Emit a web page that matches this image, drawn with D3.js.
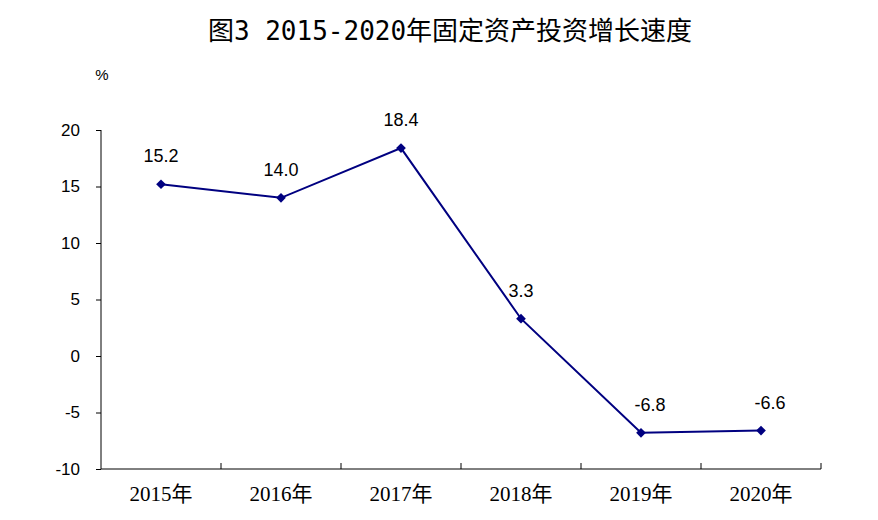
<!DOCTYPE html>
<html><head><meta charset="utf-8">
<script src="https://cdn.jsdelivr.net/npm/d3@7"></script>
<style>body{margin:0;background:#fff}</style>
</head><body>
<script>
const title = "图3 2015-2020年固定资产投资增长速度";
const categories = ["2015年","2016年","2017年","2018年","2019年","2020年"];
const values = [15.2, 14.0, 18.4, 3.3, -6.8, -6.6];
const yTicks = [-10, -5, 0, 5, 10, 15, 20];
const unit = "%";

const W = 878, H = 520;
const sans = "'Liberation Sans', Arial, sans-serif";
const svg = d3.select("body").append("svg").attr("width", W).attr("height", H);
const x = d3.scaleBand().domain(categories).range([101, 821]);
const y = d3.scaleLinear().domain([-10, 20]).range([469, 130]);

svg.append("text").attr("x", 450).attr("y", 40).attr("text-anchor", "middle")
  .style("font-family", "'DejaVu Sans Mono', 'Noto Sans CJK SC', sans-serif").style("font-size", "26px").attr("fill", "#000")
  .text(title);
svg.append("text").attr("x", 102).attr("y", 80).attr("text-anchor", "middle")
  .style("font-family", sans).style("font-size", "15px").text(unit);

// y axis
const ya = svg.append("g").attr("transform", "translate(101,0)")
  .call(d3.axisLeft(y).tickValues(yTicks).tickSize(5).tickPadding(16).tickFormat(d => String(d)));
ya.select(".domain").attr("stroke", "#000").attr("d", `M0,${y(20)}V${y(-10)}`);
ya.selectAll("text").style("font-family", sans).style("font-size", "17px").attr("fill", "#000");

// x axis with boundary ticks
const xa = svg.append("g").attr("transform", `translate(0,${y(-10)})`)
  .call(d3.axisBottom(x).tickSize(0).tickPadding(17));
xa.select(".domain").attr("stroke", "#000").attr("d", `M101,0H821`);
xa.selectAll("text").style("font-family", "'Liberation Serif', 'Noto Sans CJK SC', serif").style("font-size", "21px").attr("fill", "#000");
xa.selectAll(".bt").data(categories).enter().append("line")
  .attr("x1", d => x(d) + x.bandwidth()).attr("x2", d => x(d) + x.bandwidth())
  .attr("y1", 0).attr("y2", -6).attr("stroke", "#000");

const cx = d => x(d) + x.bandwidth() / 2;
const line = d3.line().x((d, i) => cx(categories[i])).y(d => y(d));
svg.append("path").datum(values).attr("d", line).attr("fill", "none")
  .attr("stroke", "#000080").attr("stroke-width", 2);
svg.selectAll(".m").data(values).enter().append("path")
  .attr("d", d3.symbol(d3.symbolDiamond2, 60)())
  .attr("transform", (d, i) => `translate(${cx(categories[i])},${y(d)})`)
  .attr("fill", "#000080");
svg.selectAll(".lbl").data(values).enter().append("text")
  .attr("x", (d, i) => cx(categories[i]) + (d < 0 ? 9 : 0))
  .attr("y", d => y(d) - 22)
  .attr("text-anchor", "middle")
  .style("font-family", sans).style("font-size", "18px").attr("fill", "#000")
  .text(d => d.toFixed(1));
</script>
</body></html>
